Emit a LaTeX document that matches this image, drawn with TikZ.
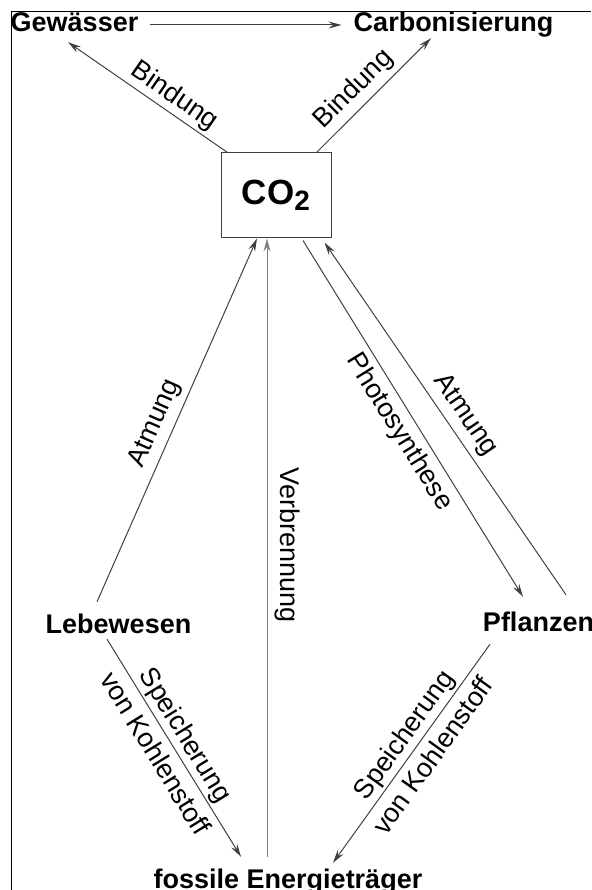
\documentclass[tikz,border=0pt]{standalone}
\usepackage{fontspec}
\setmainfont{Liberation Sans}
\usetikzlibrary{arrows.meta}
\definecolor{linegray}{gray}{0.25}
\definecolor{firegray}{gray}{0.5}
\begin{document}
\begin{tikzpicture}[x=1pt, y=-1pt, >={Stealth[length=13pt,width=7pt,inset=4.5pt]},
    place/.style={font=\fontsize{27}{32}\selectfont\bfseries, inner xsep=12pt, inner ysep=5pt, text height=19pt, text depth=5pt},
    lab/.style={font=\fontsize{27}{36}\selectfont, inner sep=5pt},
    flow/.style={->, draw=linegray, line width=1pt}]
    \useasboundingbox (0,0) rectangle (591,890);
    \draw[line width=1pt] (11.7,890) -- (11.7,11.7) -- (591,11.7); % frame
    % stores
    \node[place] (gew) at (74.5,25) {Gewässer};
    \node[place] (carb) at (453.5,25) {Carbonisierung};
    \node[draw=linegray, line width=1pt, minimum width=110pt, minimum height=85pt, inner sep=0pt,
          font=\fontsize{35}{40}\selectfont\bfseries] (co2) at (276,195.5) {CO\raisebox{-6pt}{\fontsize{28}{30}\selectfont 2}};
    \node[place] (leb) at (118.5,626) {Lebewesen};
    \node[place] (pfl) at (538.5,624) {Pflanzen};
    \node[place] (fos) at (288,881) {fossile Energieträger};
    % flows
    \draw[flow] (gew.east) -- (carb.west);
    \draw[flow] ([xshift=7pt]co2.north west) -- node[lab, sloped, above, pos=0.39, inner ysep=3pt] {Bindung} ([xshift=-6.5pt]gew.south);
    \draw[flow] ([xshift=-15pt]co2.north east) -- node[lab, sloped, above, pos=0.44] {Bindung} ([shift={(-22.5pt,4pt)}]carb.south);
    \draw[flow] ([shift={(-21.5pt,7pt)}]leb.north) -- node[lab, sloped, above, pos=0.47, inner ysep=6pt] {Atmung} ([xshift=-19pt]co2.south);
    \draw[flow, draw=firegray] ([shift={(-21pt,7pt)}]fos.north) -- node[lab, rotate=-90, above, pos=0.504, inner ysep=7pt] {Verbrennung} ([xshift=-9pt]co2.south);
    \draw[flow] ([shift={(27pt,-2pt)}]co2.south) -- node[lab, sloped, below, pos=0.51, inner ysep=6pt] {Photosynthese} ([shift={(-15.5pt,10pt)}]pfl.north);
    \draw[flow] ([shift={(27.5pt,12pt)}]pfl.north) -- node[lab, sloped, above, pos=0.48, inner ysep=6pt] {Atmung} ([shift={(-7pt,-4pt)}]co2.south east);
    \draw[flow] ([shift={(-11.5pt,4pt)}]leb.south) -- node[lab, sloped, align=center, pos=0.48] {Speicherung\\von Kohlenstoff} ([shift={(-47pt,7pt)}]fos.north);
    \draw[flow] ([shift={(-48.5pt,-3pt)}]pfl.south) -- node[lab, sloped, align=center, pos=0.46] {Speicherung\\von Kohlenstoff} ([shift={(45pt,1pt)}]fos.north);
\end{tikzpicture}
\end{document}
